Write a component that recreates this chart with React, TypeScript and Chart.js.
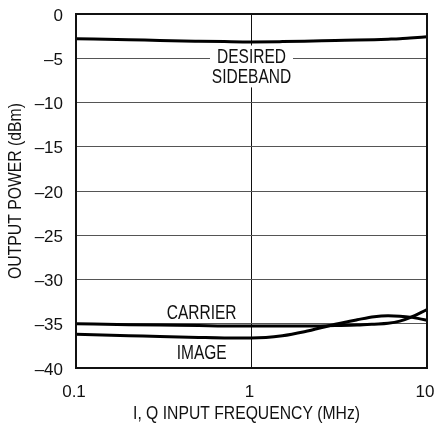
import React, { useEffect, useRef } from "react";
import { Chart, registerables } from "chart.js";

Chart.register(...registerables);

const frequencies = [0.1, 0.2, 0.3, 0.5, 0.7, 1, 1.5, 2, 3, 4, 5, 6, 7, 8, 10];
const desiredSideband = [-2.8, -2.9, -3.0, -3.08, -3.12, -3.15, -3.12, -3.08, -3.0, -2.95, -2.9, -2.85, -2.8, -2.72, -2.58];
const carrier = [-35.0, -35.1, -35.15, -35.2, -35.25, -35.25, -35.25, -35.25, -35.2, -35.15, -35.05, -34.95, -34.7, -34.3, -33.4];
const image = [-36.2, -36.35, -36.45, -36.55, -36.6, -36.6, -36.35, -35.9, -35.05, -34.55, -34.2, -34.1, -34.15, -34.25, -34.6];

const xTicks = [0.1, 1, 10];
const yMin = -40;
const yMax = 0;
const yStep = 5;

const xTitle = "I, Q INPUT FREQUENCY (MHz)";
const yTitle = "OUTPUT POWER (dBm)";

const annotations = [
  { text: "DESIRED", x: 1, y: -4.8, box: true },
  { text: "SIDEBAND", x: 1, y: -7.05, box: true },
  { text: "CARRIER", x: 0.52, y: -33.7, box: false },
  { text: "IMAGE", x: 0.52, y: -38.2, box: false },
];

const FONT = "'Liberation Sans', Arial, sans-serif";

function narrowText(ctx: CanvasRenderingContext2D, text: string, x: number, y: number, sx: number, rot = 0) {
  ctx.save();
  ctx.translate(x, y);
  if (rot) ctx.rotate(rot);
  ctx.scale(sx, 1);
  ctx.fillText(text, 0, 0);
  ctx.restore();
}

export default function App() {
  const ref = useRef<HTMLCanvasElement>(null);

  useEffect(() => {
    document.body.style.margin = "0";
    const canvas = ref.current;
    if (!canvas) return;

    const toPts = (vals: number[]) => frequencies.map((f, i) => ({ x: f, y: vals[i] }));

    const labelPlugin = {
      id: "labels",
      beforeDatasetsDraw(chart: any) {
        const { ctx, scales } = chart;
        ctx.save();
        ctx.font = `20px ${FONT}`;
        ctx.fillStyle = "#fff";
        for (const a of annotations) {
          if (!a.box) continue;
          const cx = scales.x.getPixelForValue(a.x);
          const cy = scales.y.getPixelForValue(a.y);
          const w = ctx.measureText(a.text).width * 0.776;
          ctx.fillRect(cx - w / 2 - 7, cy - 11, w + 14, 22);
        }
        ctx.restore();
      },
      afterDatasetsDraw(chart: any) {
        const { ctx, scales, chartArea } = chart;
        ctx.save();
        ctx.fillStyle = "#111";
        ctx.textAlign = "center";
        ctx.textBaseline = "middle";
        ctx.font = `20px ${FONT}`;
        for (const a of annotations) {
          const cx = scales.x.getPixelForValue(a.x);
          const cy = scales.y.getPixelForValue(a.y);
          narrowText(ctx, a.text, cx, cy + 1, 0.776);
        }
        // frame
        ctx.strokeStyle = "#111";
        ctx.lineWidth = 2;
        ctx.strokeRect(chartArea.left, chartArea.top, chartArea.right - chartArea.left, chartArea.bottom - chartArea.top);

        // tick labels
        ctx.font = `17px ${FONT}`;
        ctx.textAlign = "right";
        for (const t of scales.y.ticks) {
          const v = t.value;
          const s = v < 0 ? "\u2013" + Math.abs(v) : String(v);
          ctx.fillText(s, chartArea.left - 13, scales.y.getPixelForValue(v) + 2);
        }
        ctx.textAlign = "center";
        for (const t of scales.x.ticks) {
          const v = t.value;
          ctx.fillText(String(v), scales.x.getPixelForValue(v) - 2, chartArea.bottom + 24);
        }
        // axis titles
        ctx.font = `18px ${FONT}`;
        narrowText(ctx, xTitle, (chartArea.left + chartArea.right) / 2 - 5, chartArea.bottom + 46, 0.873);
        narrowText(ctx, yTitle, 16, (chartArea.top + chartArea.bottom) / 2, 0.875, -Math.PI / 2);
        ctx.restore();
      },
    };

    const lineStyle = {
      borderColor: "#000",
      borderWidth: 3,
      pointRadius: 0,
      cubicInterpolationMode: "monotone" as const,
      fill: false,
    };

    const chart = new Chart(canvas, {
      type: "line",
      data: {
        datasets: [
          { label: "Desired Sideband", data: toPts(desiredSideband), ...lineStyle },
          { label: "Carrier", data: toPts(carrier), ...lineStyle },
          { label: "Image", data: toPts(image), ...lineStyle },
        ],
      },
      options: {
        animation: false,
        responsive: true,
        maintainAspectRatio: false,
        layout: { padding: { left: 0, top: 14, right: 11, bottom: 0 } },
        plugins: { legend: { display: false }, tooltip: { enabled: false } },
        scales: {
          x: {
            type: "logarithmic",
            min: 0.1,
            max: 10,
            afterBuildTicks: (scale: any) => {
              scale.ticks = xTicks.map((v) => ({ value: v }));
            },
            afterFit: (scale: any) => {
              scale.height = 55;
            },
            ticks: { display: false, autoSkip: false },
            grid: { color: "#111", lineWidth: 1, drawTicks: false },
            border: { display: false },
          },
          y: {
            min: yMin,
            max: yMax,
            afterFit: (scale: any) => {
              scale.width = 76;
            },
            ticks: { display: false, stepSize: yStep },
            grid: { color: "#555", lineWidth: 1, drawTicks: false },
            border: { display: false },
          },
        },
      },
      plugins: [labelPlugin],
    });

    return () => chart.destroy();
  }, []);

  return (
    <div style={{ position: "relative", width: 438, height: 423 }}>
      <canvas ref={ref} />
    </div>
  );
}
